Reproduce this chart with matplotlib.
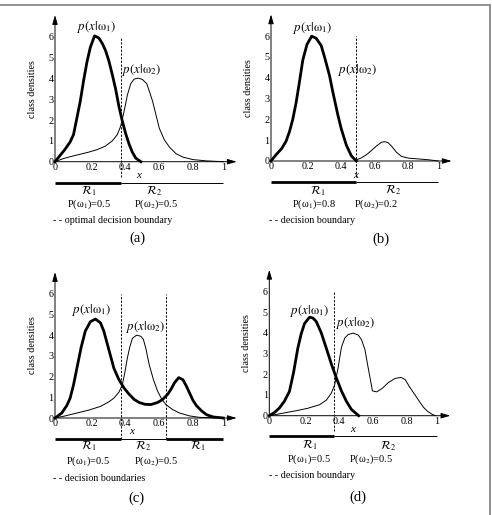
import matplotlib
matplotlib.use("Agg")
import matplotlib.pyplot as plt
from matplotlib.lines import Line2D
from matplotlib.transforms import ScaledTranslation

plt.rcParams['font.family'] = ['Liberation Serif', 'DejaVu Serif']
plt.rcParams['mathtext.fontset'] = 'stix'

# ---------------- data ----------------
x_ticks = [0, 0.2, 0.4, 0.6, 0.8, 1.0]
x_tick_labels = ["0", "0.2", "0.4", "0.6", "0.8", "1"]
y_ticks = [0, 1, 2, 3, 4, 5, 6]
y_tick_labels = ["0", "1", "2", "3", "4", "5", "6"]

# panel (a)
a_w1_x = [0, 0.03, 0.06, 0.09, 0.11, 0.13, 0.15, 0.17, 0.19, 0.21, 0.235, 0.26, 0.28, 0.30,
          0.32, 0.34, 0.36, 0.38, 0.40, 0.42, 0.44, 0.46, 0.48, 0.51]
a_w1_y = [0, 0.3, 0.6, 0.95, 1.3, 2.1, 2.9, 3.9, 4.8, 5.5, 6.05, 5.95, 5.7, 5.35,
          4.85, 4.2, 3.5, 2.65, 1.95, 1.35, 0.85, 0.45, 0.17, 0]
a_w2_x = [0, 0.05, 0.1, 0.15, 0.2, 0.25, 0.3, 0.34, 0.37, 0.39, 0.41, 0.43, 0.45, 0.47, 0.495,
          0.52, 0.545, 0.56, 0.58, 0.60, 0.62, 0.65, 0.68, 0.72, 0.76, 0.82, 0.9, 1.0]
a_w2_y = [0, 0.15, 0.26, 0.36, 0.46, 0.58, 0.75, 1.0, 1.3, 1.7, 2.4, 3.2, 3.75, 3.97, 4.02,
          3.95, 3.75, 3.4, 2.9, 2.25, 1.6, 1.05, 0.7, 0.38, 0.22, 0.1, 0.04, 0]
a_bounds = [0.39]
a_regions = [r"$\mathcal{R}_1$", r"$\mathcal{R}_2$"]
a_priors = ["0.5", "0.5"]

# panel (b)
b_w1_x = [0, 0.03, 0.064, 0.09, 0.11, 0.13, 0.15, 0.17, 0.19, 0.215, 0.243, 0.27, 0.30, 0.32,
          0.35, 0.37, 0.40, 0.42, 0.45, 0.48, 0.51]
b_w1_y = [0, 0.3, 0.6, 0.95, 1.4, 2.0, 2.8, 3.8, 4.85, 5.6, 6.0, 5.9, 5.55, 5.0,
          4.1, 3.3, 2.2, 1.55, 0.77, 0.25, 0]
b_w2_x = [0.51, 0.54, 0.57, 0.60, 0.63, 0.66, 0.68, 0.70, 0.72, 0.75, 0.78, 0.82, 0.88, 0.94, 1.0]
b_w2_y = [0.05, 0.15, 0.3, 0.5, 0.72, 0.9, 0.93, 0.88, 0.72, 0.42, 0.22, 0.14, 0.1, 0.06, 0]
b_bounds = [0.51]
b_priors = ["0.8", "0.2"]

# panel (c)
c_w1_x = [0, 0.04, 0.07, 0.09, 0.11, 0.13, 0.155, 0.18, 0.21, 0.24, 0.27, 0.29, 0.31, 0.33,
          0.35, 0.38, 0.41, 0.44, 0.47, 0.50, 0.535, 0.57, 0.61, 0.64, 0.67, 0.69, 0.71,
          0.735, 0.76, 0.78, 0.80, 0.82, 0.84, 0.87, 0.90, 0.94, 1.0]
c_w1_y = [0, 0.24, 0.6, 0.96, 1.6, 2.4, 3.4, 4.2, 4.65, 4.78, 4.6, 4.2, 3.6, 3.0,
          2.4, 1.85, 1.45, 1.15, 0.9, 0.75, 0.66, 0.65, 0.75, 0.9, 1.15, 1.4, 1.7,
          1.95, 1.85, 1.55, 1.2, 0.85, 0.6, 0.35, 0.16, 0.05, 0]
c_w2_x = [0, 0.06, 0.13, 0.2, 0.27, 0.32, 0.35, 0.38, 0.40, 0.415, 0.43, 0.445, 0.46, 0.485,
          0.51, 0.525, 0.54, 0.56, 0.585, 0.61, 0.635, 0.66, 0.70, 0.74, 0.80, 0.86, 1.0]
c_w2_y = [0, 0.1, 0.24, 0.38, 0.56, 0.78, 0.96, 1.25, 1.6, 2.2, 2.9, 3.45, 3.85, 4.0,
          3.95, 3.8, 3.35, 2.57, 1.85, 1.29, 0.9, 0.64, 0.4, 0.24, 0.1, 0.03, 0]
c_bounds = [0.39, 0.657]
c_regions = [r"$\mathcal{R}_1$", r"$\mathcal{R}_2$", r"$\mathcal{R}_1$"]

# panel (d)
d_w1_x = [0, 0.03, 0.06, 0.09, 0.12, 0.145, 0.17, 0.19, 0.21, 0.24, 0.26, 0.28, 0.31, 0.34,
          0.37, 0.40, 0.43, 0.46, 0.49, 0.533]
d_w1_y = [0, 0.15, 0.37, 0.7, 1.17, 2.1, 3.26, 3.95, 4.45, 4.76, 4.72, 4.55, 4.0, 3.26,
          2.5, 1.82, 1.2, 0.69, 0.3, 0]
d_w2_x = [0, 0.08, 0.16, 0.23, 0.30, 0.34, 0.37, 0.39, 0.41, 0.43, 0.45, 0.47, 0.50, 0.53,
          0.55, 0.57, 0.59, 0.615, 0.64, 0.675, 0.71, 0.75, 0.785, 0.81, 0.835, 0.865,
          0.895, 0.92, 0.944, 0.97, 0.99]
d_w2_y = [0, 0.12, 0.24, 0.36, 0.53, 0.75, 1.09, 1.5, 2.3, 3.3, 3.75, 3.92, 3.99, 3.9,
          3.67, 3.2, 2.3, 1.2, 1.15, 1.33, 1.6, 1.8, 1.85, 1.75, 1.41, 1.05,
          0.69, 0.4, 0.21, 0.07, 0]
d_bounds = [0.388]

# ---------------- figure ----------------
W, H = 492, 515
fig = plt.figure(figsize=(W / 100, H / 100), dpi=100)

X0, X1 = -0.4, 1.2
Y0, Y1 = -4.5, 7.5
THICK, THIN = 2.0, 0.7
TICK_FS, LAB_FS, P_FS, R_FS, PR_FS, LEG_FS, PAN_FS = 7.3, 7.3, 9.3, 8.5, 7.5, 7.2, 10.5


def make_ax(ox, oy, sx, sy):
    left = ox + X0 * sx
    width = (X1 - X0) * sx
    top = oy - Y1 * sy
    height = (Y1 - Y0) * sy
    ax = fig.add_axes([left / W, 1 - (top + height) / H, width / W, height / H])
    ax.set_xlim(X0, X1)
    ax.set_ylim(Y0, Y1)
    ax.patch.set_visible(False)
    for s in ['top', 'right']:
        ax.spines[s].set_visible(False)
    ax.spines['left'].set_position(('data', 0))
    ax.spines['bottom'].set_position(('data', 0))
    ax.spines['left'].set_visible(False)
    ax.spines['bottom'].set_visible(False)
    ax.set_xticks(x_ticks)
    ax.set_xticklabels(x_tick_labels, fontsize=TICK_FS)
    ax.set_yticks(y_ticks)
    ax.set_yticklabels(y_tick_labels, fontsize=TICK_FS)
    ax.tick_params(length=0, pad=1.0)
    off = ScaledTranslation(3.0 / 100, 0, fig.dpi_scale_trans)
    for lab in ax.get_xticklabels()[1:5]:
        lab.set_transform(lab.get_transform() + off)
    # axis arrows
    ap = dict(arrowstyle='-|>,head_length=0.55,head_width=0.16', lw=0.7, color='k',
              shrinkA=0, shrinkB=0, mutation_scale=10)
    ax.annotate('', xy=(1.08, 0), xytext=(0, 0), arrowprops=ap, annotation_clip=False)
    ax.annotate('', xy=(0, 7.05), xytext=(0, 0), arrowprops=ap, annotation_clip=False)
    ax.set_ylabel("class densities", fontsize=LAB_FS, labelpad=0)
    ax.yaxis.set_label_coords(-0.107, 3.5, transform=ax.transData)
    return ax


def regions_bar(ax, bounds, thick_flags, y=-1.0):
    edges = [0] + list(bounds) + [1.0]
    for i in range(len(edges) - 1):
        ax.plot([edges[i], edges[i + 1]], [y, y], color='k',
                lw=THICK if thick_flags[i] else THIN, solid_capstyle='butt', clip_on=False)


def dashed(ax, xb, ybot):
    ax.plot([xb, xb], [ybot, 6.0], color='k', lw=0.7, ls=(0, (2.2, 1.6)), clip_on=False)


def plabel(ax, k, x, y):
    ax.text(x, y, r"$p(x|\mathrm{ω}_%d)$" % k, fontsize=P_FS, ha='center', va='center')


def prior(ax, k, val, x, y):
    ax.text(x, y, "P(ω$_%d$)=%s" % (k, val), fontsize=PR_FS, ha='center', va='center')


# ---- (a)
ax = make_ax(55, 161.7, 168.3, 20.8)
ax.plot(a_w2_x, a_w2_y, color='k', lw=THIN)
ax.plot(a_w1_x, a_w1_y, color='k', lw=THICK)
dashed(ax, a_bounds[0], -0.72)
regions_bar(ax, a_bounds, [True, False])
plabel(ax, 1, 0.248, 6.46)
plabel(ax, 2, 0.515, 4.41)
ax.text(0.495, -0.64, "x", fontsize=8, style='italic', ha='center', va='center')
ax.text(0.198, -1.40, a_regions[0], fontsize=R_FS, ha='center', va='center')
ax.text(0.588, -1.40, a_regions[1], fontsize=R_FS, ha='center', va='center')
prior(ax, 1, a_priors[0], 0.204, -2.05)
prior(ax, 2, a_priors[1], 0.60, -2.05)
ax.text(-0.014, -2.84, "- - optimal decision boundary", fontsize=LEG_FS, ha='left', va='center')
ax.text(0.491, -3.70, "(a)", fontsize=PAN_FS, ha='center', va='center')

# ---- (b)
ax = make_ax(271, 161, 167.3, 20.8)
ax.plot(b_w2_x, b_w2_y, color='k', lw=THIN)
ax.plot(b_w1_x, b_w1_y, color='k', lw=THICK)
dashed(ax, b_bounds[0], -0.77)
regions_bar(ax, b_bounds, [True, False])
plabel(ax, 1, 0.249, 6.38)
plabel(ax, 2, 0.518, 4.375)
ax.text(0.508, -0.71, "x", fontsize=8, style='italic', ha='center', va='center')
ax.text(0.279, -1.44, a_regions[0], fontsize=R_FS, ha='center', va='center')
ax.text(0.727, -1.40, a_regions[1], fontsize=R_FS, ha='center', va='center')
prior(ax, 1, b_priors[0], 0.259, -2.07)
prior(ax, 2, b_priors[1], 0.628, -2.07)
ax.text(-0.014, -2.84, "- - decision boundary", fontsize=LEG_FS, ha='left', va='center')
ax.text(0.657, -3.75, "(b)", fontsize=PAN_FS, ha='center', va='center')

# ---- (c)
ax = make_ax(55, 418, 168.3, 20.7)
ax.plot(c_w2_x, c_w2_y, color='k', lw=THIN)
ax.plot(c_w1_x, c_w1_y, color='k', lw=THICK)
for xb in c_bounds:
    dashed(ax, xb, -1.0)
regions_bar(ax, c_bounds, [True, False, True])
plabel(ax, 1, 0.218, 5.2)
plabel(ax, 2, 0.539, 4.4)
ax.text(0.456, -0.64, "x", fontsize=8, style='italic', ha='center', va='center')
for xr, lab in zip([0.198, 0.525, 0.851], c_regions):
    ax.text(xr, -1.35, lab, fontsize=R_FS, ha='center', va='center')
prior(ax, 1, a_priors[0], 0.198, -2.07)
prior(ax, 2, a_priors[1], 0.60, -2.07)
ax.text(-0.014, -2.9, "- - decision boundaries", fontsize=LEG_FS, ha='left', va='center')
ax.text(0.485, -3.86, "(c)", fontsize=PAN_FS, ha='center', va='center')

# ---- (d)
ax = make_ax(269.3, 415.7, 167.7, 20.7)
ax.plot(d_w2_x, d_w2_y, color='k', lw=THIN)
ax.plot(d_w1_x, d_w1_y, color='k', lw=THICK)
dashed(ax, d_bounds[0], -0.74)
regions_bar(ax, d_bounds, [True, False])
plabel(ax, 1, 0.237, 5.06)
plabel(ax, 2, 0.517, 4.48)
ax.text(0.497, -0.68, "x", fontsize=8, style='italic', ha='center', va='center')
ax.text(0.239, -1.42, a_regions[0], fontsize=R_FS, ha='center', va='center')
ax.text(0.706, -1.45, a_regions[1], fontsize=R_FS, ha='center', va='center')
prior(ax, 1, a_priors[0], 0.237, -2.10)
prior(ax, 2, a_priors[1], 0.606, -2.10)
ax.text(-0.002, -2.88, "- - decision boundary", fontsize=LEG_FS, ha='left', va='center')
ax.text(0.527, -3.93, "(d)", fontsize=PAN_FS, ha='center', va='center')

# ---- frame lines (top and right)
gray = '#8f8f8f'
fig.add_artist(Line2D([0, 489.5 / W], [1 - 5.3 / H, 1 - 5.3 / H], color=gray, lw=1.4,
                      transform=fig.transFigure))
fig.add_artist(Line2D([489.5 / W, 489.5 / W], [1 - 5.3 / H, 0], color=gray, lw=1.4,
                      transform=fig.transFigure))

fig.savefig("out.png", dpi=100)
